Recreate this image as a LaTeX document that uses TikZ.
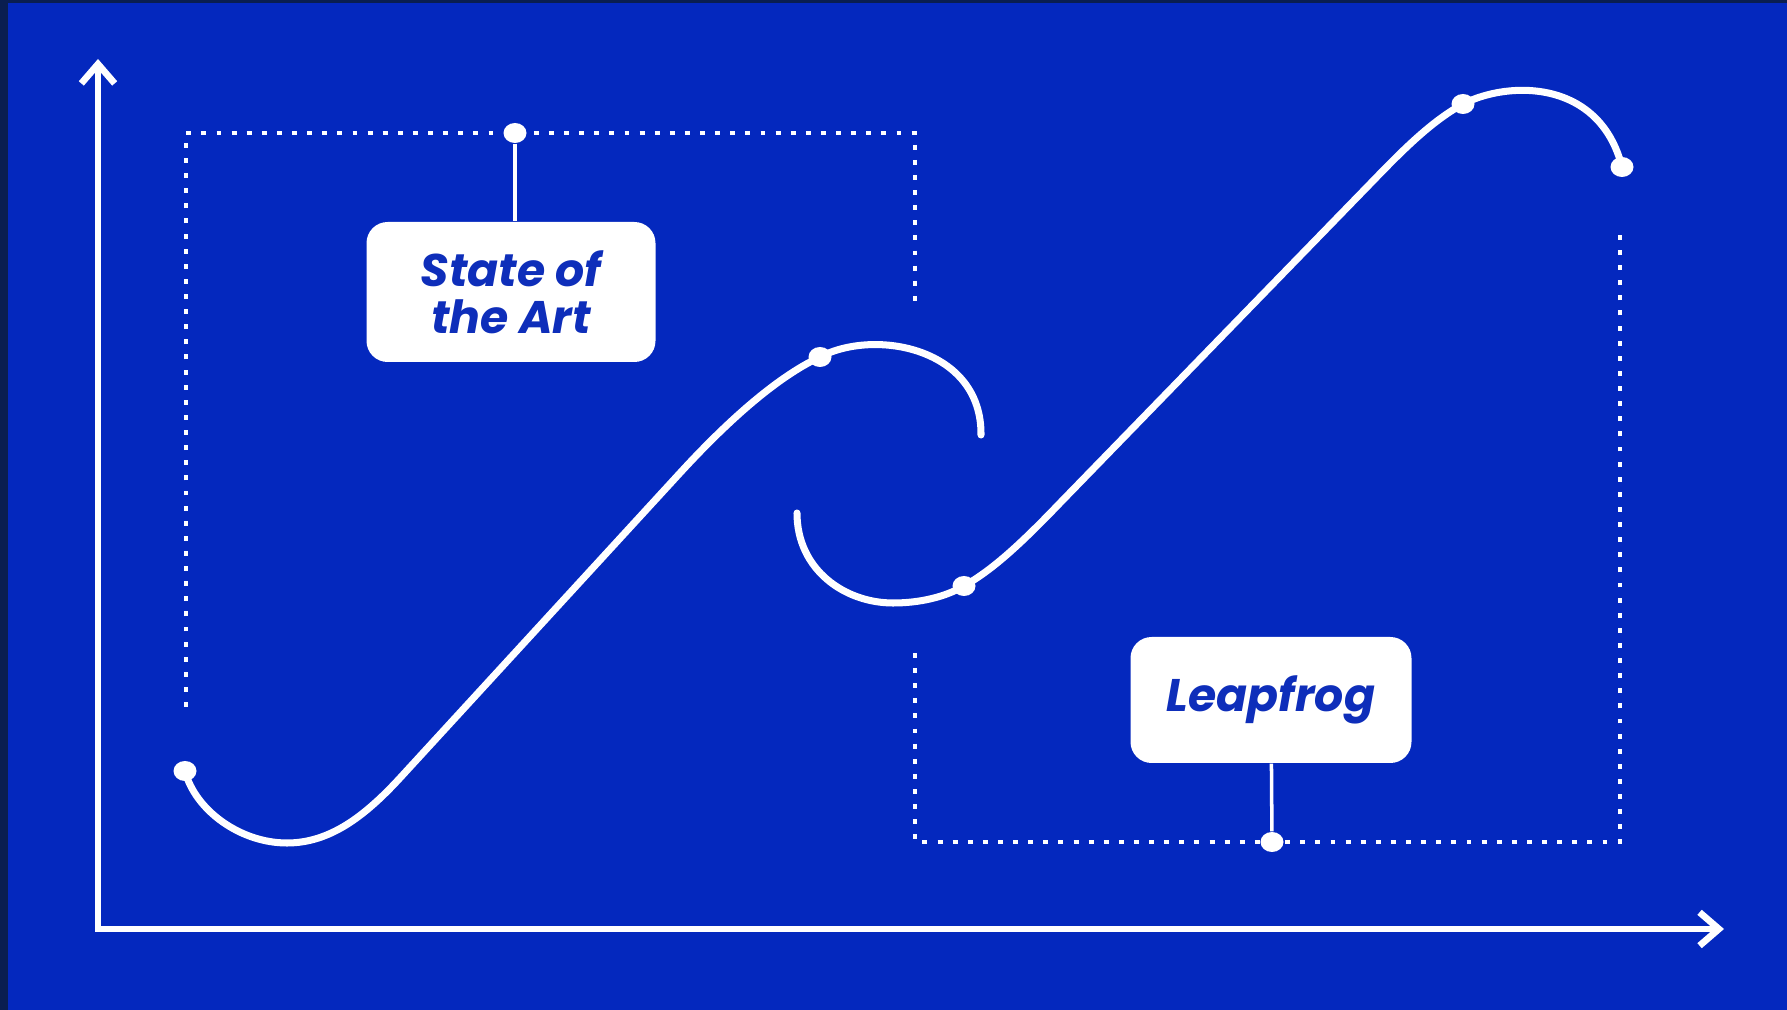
\documentclass[tikz,border=0pt]{standalone}
\usepackage{fontspec}
\usetikzlibrary{arrows.meta,shapes.geometric}
\newfontfamily\tagfont{Poppins}
\definecolor{bgblue}{RGB}{4,40,190}
\definecolor{edgeblue}{RGB}{10,30,80}
\definecolor{tagblue}{RGB}{14,46,186}
\begin{document}
\begin{tikzpicture}[x=0.1mm,y=0.1mm,
  knot/.style={ellipse,fill=white,inner sep=0pt,minimum width=2.3mm,minimum height=2mm},
  tag/.style={fill=white,rounded corners=6pt,inner sep=0pt,align=center,text=tagblue,
    font=\tagfont\bfseries\itshape\fontsize{13}{13.4}\selectfont},
  guide/.style={white,line width=1.4pt,dash pattern=on 1.4pt off 2.9pt},
  curve/.style={white,line width=2pt,line cap=round},
  axis/.style={white,line width=1.9pt,line cap=round,
    {Straight Barb[length=5.5pt,width=9.5pt]}-{Straight Barb[length=5.5pt,width=9.5pt]}},
  stem/.style={white,line width=1pt}]
\useasboundingbox (0,0) rectangle (1787,-1010);
\fill[edgeblue] (0,0) rectangle (1787,-1010);
\fill[bgblue] (8,-3) rectangle (1787,-1010);
\coordinate (origin) at (98,-929);
\coordinate (ytip) at (98,-59);
\coordinate (xtip) at (1724,-929);
\draw[axis] (ytip) -- (origin) -- (xtip);
\draw[guide] (186,-707) -- (186,-133) -- (915,-133) -- (915,-305);
\draw[guide] (915,-653) -- (915,-842) -- (1620,-842) -- (1620,-234);
\node[knot] (sota) at (515,-133) {};
\node[knot] (leap) at (1272,-842) {};
\node[knot] (a0) at (185,-771) {};
\node[knot] (a1) at (820,-357) {};
\node[knot] (b1) at (964,-586) {};
\node[knot] (b2) at (1463,-104) {};
\node[knot] (b3) at (1622,-167) {};
\coordinate (a2) at (981,-435);
\coordinate (b0) at (797,-513);
\node[tag,minimum width=2.89cm,minimum height=1.4cm] (soabox) at (511,-292) {State of\\the Art};
\node[tag,minimum width=2.81cm,minimum height=1.26cm] (leapbox) at (1271,-700) {Leapfrog};
\draw[stem] (sota) -- (sota |- soabox.north);
\draw[stem] (leap) -- (leapbox);
\draw[curve] (a0.center) .. controls (195,-810) and (240,-843) .. (287,-843)
  .. controls (330,-843) and (365,-816) .. (400,-778) -- (680,-473)
  .. controls (725,-424) and (775,-378) .. (a1.center)
  .. controls (875,-328) and (982,-348) .. (a2);
\draw[curve] (b0) .. controls (797,-570) and (845,-603) .. (893,-603)
  .. controls (920,-603) and (945,-597) .. (b1.center)
  .. controls (990,-571) and (1015,-550) .. (1060,-503) -- (1370,-184)
  .. controls (1400,-153) and (1430,-122) .. (b2.center)
  .. controls (1510,-80) and (1600,-80) .. (b3.center);
\end{tikzpicture}
\end{document}
